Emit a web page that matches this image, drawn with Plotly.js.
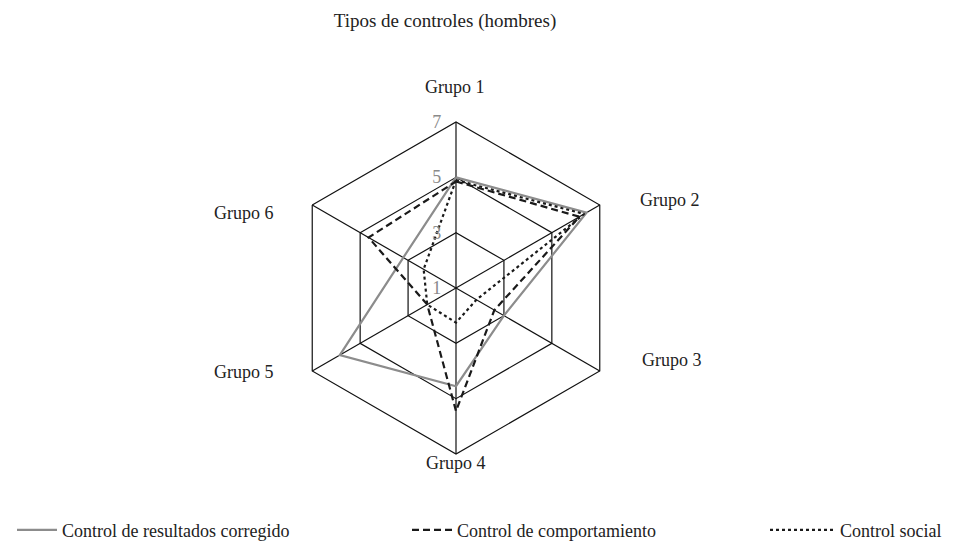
<!DOCTYPE html>
<html>
<head>
<meta charset="utf-8">
<script src="https://cdn.plot.ly/plotly-3.0.1.min.js"></script>
<style>html,body{margin:0;padding:0;background:#fff;}#chart{width:967px;height:550px;}</style>
</head>
<body>
<div id="chart"></div>
<script>
const groups = ['Grupo 1','Grupo 2','Grupo 3','Grupo 4','Grupo 5','Grupo 6'];
const resultados = [5.0, 6.45, 3.0, 4.55, 5.85, 3.2];
const comportamiento = [4.85, 6.15, 2.6, 5.45, 2.2, 4.65];
const social = [4.9, 6.35, 1.85, 2.25, 2.2, 2.35];
const seriesNames = ['Control de resultados corregido','Control de comportamiento','Control social'];
const radialTicks = [1, 3, 5, 7];

const close = a => a.concat([a[0]]);
const serif = 'Liberation Serif, DejaVu Serif, serif';
const W = 967, H = 550;

const traces = [
  {type:'scatterpolar', mode:'lines', name:seriesNames[0], r:close(resultados), theta:close(groups),
   line:{color:'#8c8c8c', width:2.2}, legend:'legend'},
  {type:'scatterpolar', mode:'lines', name:seriesNames[1], r:close(comportamiento), theta:close(groups),
   line:{color:'#1a1a1a', width:2.2, dash:'7px,4px'}, legend:'legend2'},
  {type:'scatterpolar', mode:'lines', name:seriesNames[2], r:close(social), theta:close(groups),
   line:{color:'#1a1a1a', width:2.2, dash:'dot'}, legend:'legend3'}
];

// label placement (pixel centres) for the six group names
const labelPos = [[455,87],[670,200],[672,360],[456,463],[244,372],[244,213]];
const annotations = groups.map((g,i) => ({
  text:g, xref:'paper', yref:'paper', x:labelPos[i][0]/W, y:1-labelPos[i][1]/H,
  xanchor:'center', yanchor:'middle', showarrow:false,
  font:{family:serif, size:18, color:'#222'}
}));

const legBase = {orientation:'h', yanchor:'middle', y:0.036, xanchor:'left', bgcolor:'rgba(0,0,0,0)',
  font:{family:serif, size:18, color:'#222'}, itemwidth:40};

const layout = {
  width:W, height:H,
  margin:{l:0, r:0, t:0, b:0},
  paper_bgcolor:'#fff',
  font:{family:serif, size:16, color:'#222'},
  title:{text:'Tipos de controles (hombres)', x:445/W, xanchor:'center', y:1-20/H, yanchor:'middle',
         font:{family:serif, size:19, color:'#222'}},
  polar:{
    domain:{x:[(456-166)/W,(456+166)/W], y:[(H-288-166)/H,(H-288+166)/H]},
    gridshape:'linear',
    bgcolor:'#fff',
    radialaxis:{range:[1,7], tickvals:radialTicks, ticktext:radialTicks.map(String), angle:90, tickangle:90,
      side:'counterclockwise', showline:false, ticks:'outside', ticklen:8, tickcolor:'rgba(0,0,0,0)',
      gridcolor:'#111', gridwidth:1.2,
      tickfont:{family:serif, size:18, color:'#8a8a8a'}},
    angularaxis:{direction:'clockwise', rotation:90, showline:true, linecolor:'#111', linewidth:1.2,
      gridcolor:'#111', gridwidth:1.2, ticks:'', showticklabels:false}
  },
  annotations:annotations,
  showlegend:true,
  legend:Object.assign({}, legBase, {x:12/W}),
  legend2:Object.assign({}, legBase, {x:407/W}),
  legend3:Object.assign({}, legBase, {x:765/W, itemwidth:65})
};

Plotly.newPlot('chart', traces, layout, {displayModeBar:false, staticPlot:true});
</script>
</body>
</html>
